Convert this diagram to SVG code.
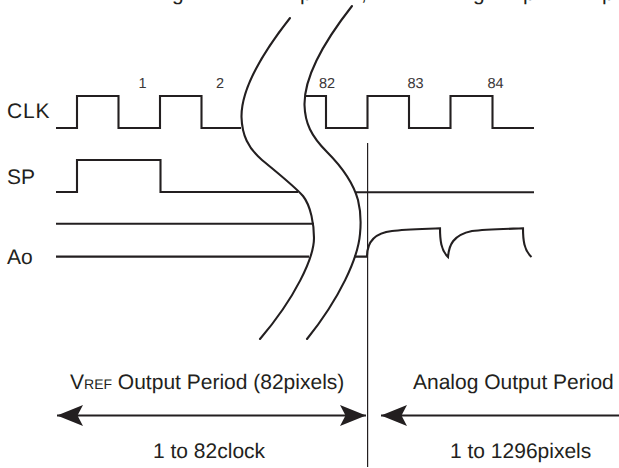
<svg xmlns="http://www.w3.org/2000/svg" width="619" height="468" viewBox="0 0 619 468">
<style>
text{font-family:"Liberation Sans",Arial,sans-serif;font-size:21px;fill:#231f20;text-rendering:geometricPrecision}
.n{font-size:14.5px;text-anchor:middle;fill:#3a3637}
.s{font-size:14px}
.w{fill:none;stroke:#231f20;stroke-width:2.1}
.c{fill:none;stroke:#231f20;stroke-width:2.1;stroke-linecap:round}
.t{fill:none;stroke:#231f20;stroke-width:1.2}
.a{fill:none;stroke:#231f20;stroke-width:2.2}
</style>
<defs>
<marker id="head" markerUnits="userSpaceOnUse" markerWidth="28" markerHeight="24" refX="26" refY="11" orient="auto-start-reverse">
<path d="M26 11L0 0.5L5.500 11L0 21.500Z" fill="#231f20"/>
</marker>
</defs>
<g id="clipped-title" style="font-size:16px">
<text x="172" y="0">g</text><text x="300" y="0">p</text><text x="361" y="0">,</text><text x="473" y="0">g</text><text x="523" y="0">p</text><text x="602" y="0">p</text>
</g>
<g id="labels">
<text x="7" y="118" letter-spacing="0.8">CLK</text>
<text x="7" y="184">SP</text>
<text x="7" y="264">Ao</text>
<text class="n" x="142.500" y="88">1</text>
<text class="n" x="220" y="88">2</text>
<text class="n" x="327" y="88">82</text>
<text class="n" x="415.500" y="88">83</text>
<text class="n" x="495.500" y="88">84</text>
</g>
<g id="signal-clk">
<path class="w" d="M56 128H77V96H118.500V128H160V96H201.500V128H241"/>
<path class="w" d="M306 96H326V128H367.500V96H409V128H450.500V96H492.500V128H534"/>
</g>
<g id="signal-sp">
<path class="w" d="M56 192H77V160H160.500V192H298"/>
<path class="w" d="M356 192.300H534"/>
</g>
<g id="signal-ao">
<path class="w" d="M56 223.800H314"/>
<path class="w" d="M56 256.600H309"/>
<path class="w" d="M354 256.600H367C367 243 374 233 392 231C405 229.500 425 229 440 228.300C440 240 441 250 448 257C449 245 453 235 472 231C485 229.500 505 229 523 228.300C523 240 524 250 531.500 257"/>
</g>
<g id="breaks">
<path class="c" d="M290 18C268 46 241 85 241.500 117C242 135 248 148 262 160C280 175 294 186 303 196C311 206 314 225 314 238C314 258 295 298 260 339"/>
<path class="c" d="M352 6C330 34 304 72 304.500 105C305 123 311 136 327 152C341 166 353 182 358 200C361 212 361 224 360 234C358 258 340 298 307 339"/>
</g>
<g id="boundary"><path class="t" d="M367.600 143V467"/></g>
<g id="connectors">
<path class="a" d="M366 415.500H57" marker-start="url(#head)" marker-end="url(#head)"/>
<path class="a" d="M619 415.500H381" marker-end="url(#head)"/>
</g>
<g id="period-labels">
<text x="70" y="389">V<tspan class="s">REF</tspan> Output Period (82pixels)</text>
<text x="413" y="389">Analog Output Period</text>
<text x="153" y="458">1 to 82clock</text>
<text x="450" y="458">1 to 1296pixels</text>
</g>
</svg>
